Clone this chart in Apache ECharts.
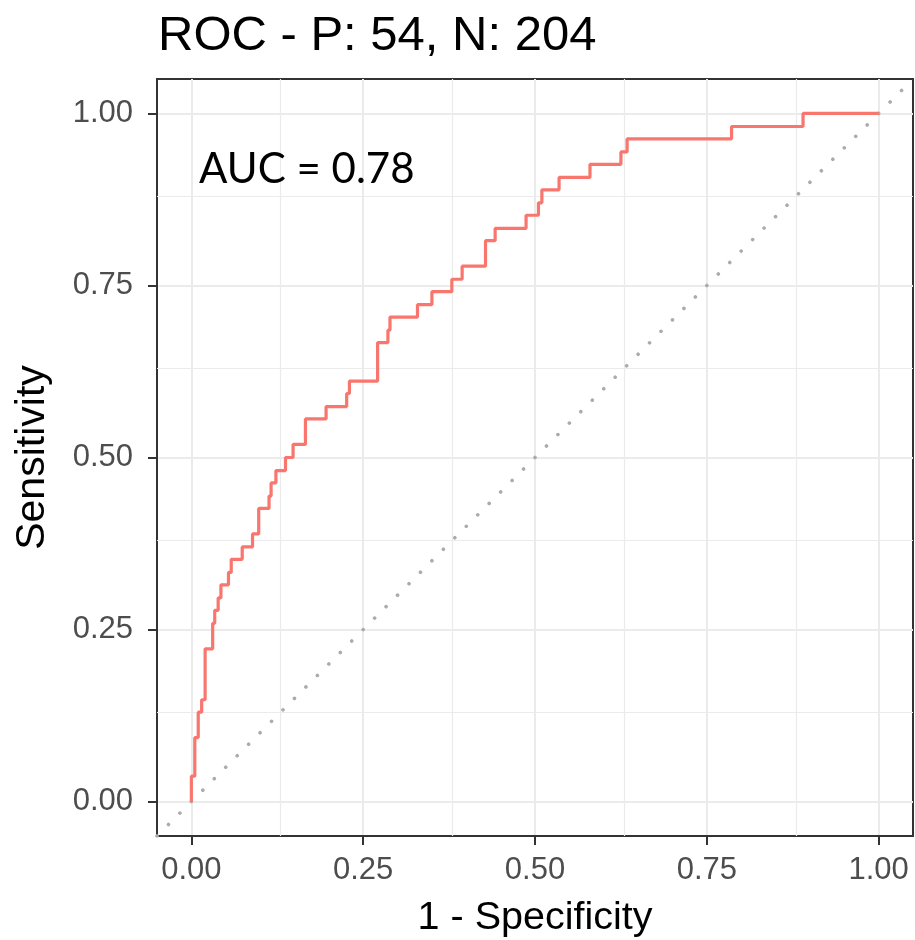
<!DOCTYPE html>
<html>
<head>
<meta charset="utf-8">
<script src="https://cdn.jsdelivr.net/npm/echarts@6/dist/echarts.min.js"></script>
<style>
html, body { margin: 0; padding: 0; background: #ffffff; }
#chart { width: 915px; height: 940px; }
</style>
</head>
<body>
<div id="chart"></div>
<script>
// ---------- data ----------
const titleText = 'ROC - P: 54, N: 204';
const aucText = 'AUC = 0.78';
const xAxisName = '1 - Specificity';
const yAxisName = 'Sensitivity';
const tickValues = [0, 0.25, 0.5, 0.75, 1];
const minorGridValues = [0.125, 0.375, 0.625, 0.875];
const axisMin = -0.05;
const axisMax = 1.05;

// ROC steps: false positive rate where each rise happens, and the sensitivity reached
const stepFpr = [0, 0.005, 0.010, 0.015, 0.020, 0.031, 0.034, 0.039, 0.043, 0.054,
                 0.058, 0.074, 0.089, 0.098, 0.113, 0.116, 0.123, 0.137, 0.148, 0.166,
                 0.196, 0.226, 0.230, 0.271, 0.286, 0.289, 0.329, 0.350, 0.379, 0.394,
                 0.428, 0.442, 0.487, 0.505, 0.510, 0.535, 0.580, 0.625, 0.634, 0.786,
                 0.890];
const stepTpr = [0.037, 0.093, 0.130, 0.148, 0.222, 0.259, 0.278, 0.296, 0.315, 0.333,
                 0.352, 0.370, 0.389, 0.426, 0.444, 0.463, 0.481, 0.500, 0.519, 0.556,
                 0.574, 0.593, 0.611, 0.667, 0.685, 0.704, 0.722, 0.741, 0.759, 0.778,
                 0.815, 0.833, 0.852, 0.870, 0.889, 0.907, 0.926, 0.944, 0.963, 0.981,
                 1.000];
const curveEnd = [1, 1];
const diagonalX = [-0.05, 1.05];
const diagonalY = [-0.05, 1.05];

// ---------- build ----------
const curve = [[0, 0]];
let prevT = 0;
for (let i = 0; i < stepFpr.length; i++) {
  curve.push([stepFpr[i], prevT]);
  curve.push([stepFpr[i], stepTpr[i]]);
  prevT = stepTpr[i];
}
curve.push(curveEnd);
const diagonal = diagonalX.map((x, i) => [x, diagonalY[i]]);

const FONT = 'Liberation Sans, Arial, Helvetica, sans-serif';
const chart = echarts.init(document.getElementById('chart'), null, { renderer: 'canvas' });

function axisCommon(name, isX) {
  return {
    type: 'value',
    min: axisMin,
    max: axisMax,
    name: name,
    nameLocation: 'middle',
    nameGap: isX ? 62 : 104,
    nameTextStyle: { fontSize: isX ? 39.5 : 41, color: '#000000', fontFamily: FONT },
    axisLine: { show: true, onZero: false, lineStyle: { color: '#333333', width: 2 } },
    axisTick: { show: true, customValues: tickValues, length: 9, lineStyle: { color: '#333333', width: 2 } },
    axisLabel: {
      customValues: tickValues,
      formatter: v => Number(v).toFixed(2),
      color: '#4D4D4D',
      fontSize: 31,
      fontFamily: FONT,
      margin: isX ? 19 : 24
    },
    splitLine: { show: true, lineStyle: { color: '#EBEBEB', width: 2 } },
    minorTick: { show: false },
    minorSplitLine: { show: false }
  };
}

chart.setOption({
  animation: false,
  backgroundColor: '#ffffff',
  title: {
    text: titleText,
    left: 158,
    top: 12,
    padding: 0,
    textStyle: { fontSize: 49, fontWeight: 'normal', color: '#000000', fontFamily: FONT }
  },
  grid: {
    left: 157,
    right: 2,
    top: 79,
    bottom: 104,
    containLabel: false,
    outerBoundsMode: 'none',
    show: true,
    borderColor: '#333333',
    borderWidth: 2,
    backgroundColor: 'transparent'
  },
  xAxis: axisCommon(xAxisName, true),
  yAxis: axisCommon(yAxisName, false),
  graphic: [{
    type: 'text',
    left: 199,
    top: 148,
    z: 10,
    style: { text: aucText, font: '42px Lato, "Open Sans", sans-serif', fill: '#000000' }
  }],
  series: [
    {
      type: 'line',
      name: 'diagonal',
      data: diagonal,
      showSymbol: false,
      symbol: 'none',
      z: 2,
      lineStyle: { color: '#ABABAB', width: 3.6, type: [0.01, 16.2], cap: 'round' },
      markLine: {
        silent: true,
        symbol: 'none',
        z: 1,
        label: { show: false },
        lineStyle: { color: '#EBEBEB', width: 1.2, type: 'solid' },
        data: minorGridValues.map(v => ({ xAxis: v })).concat(minorGridValues.map(v => ({ yAxis: v })))
      }
    },
    {
      type: 'line',
      name: 'ROC',
      data: curve,
      showSymbol: false,
      symbol: 'none',
      z: 3,
      lineStyle: { color: '#F8766D', width: 3.2 }
    }
  ]
});
</script>
</body>
</html>
